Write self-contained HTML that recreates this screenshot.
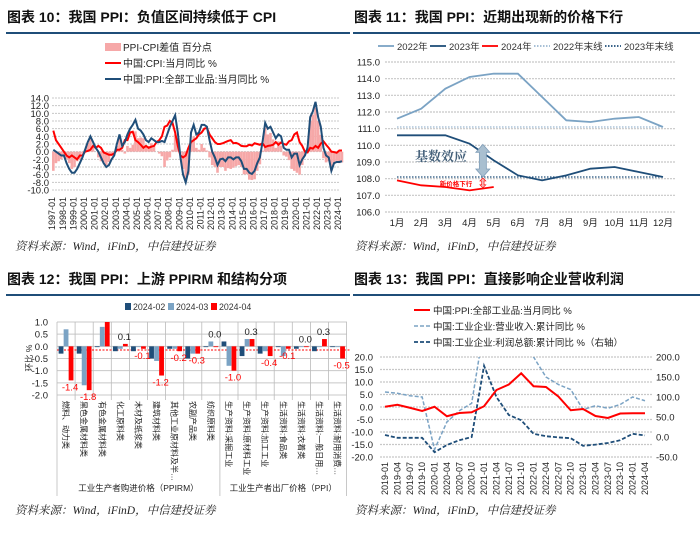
<!DOCTYPE html>
<html><head><meta charset="utf-8">
<style>
html,body{margin:0;padding:0;background:#fff;}
svg{display:block;font-family:"Liberation Sans","Noto Sans CJK SC",sans-serif;}
</style></head>
<body>
<svg id="s" width="700" height="536" viewBox="0 0 700 536" xmlns="http://www.w3.org/2000/svg"></svg>
<script>
// ---------- Chart 10 data (quarterly, 1997Q1..2024Q2) ----------
const c10PPI = [0.5,0,-0.5,-1, -1,-3,-4.5,-5.5, -5.5,-4.5,-3,-1.5, 0.5,2.5,4,2.5, 1,0,-1.5,-3, -4,-3.5,-2,-1, 2,4.5,1.5,2.5, 4.5,6,7,8.3, 6,5.5,4.5,3, 2.5,3.5,3,2.5, 2.5,2.8,2.5,4.5, 6.5,8,9.5,5, -1.5,-6,-8,-5, 5,7,4.5,5, 7,7,6.5,3, 0,-1.5,-3.5,-2, -1.8,-2.5,-1.5,-1.5, -2,-1.5,-1.5,-2.5, -4.5,-4.5,-5.5,-5.8, -5,-3,-1.5,2.5, 7.5,6,6.5,5, 3.5,4.5,4,1, 0.5,0.5,-1.5,-0.5, -0.5,-3.5,-2,-1, 1,9,10.5,13, 9,6.5,1,-1, -1.5,-5,-3,-2.7, -2.7,-2.5];
const c10CPI = [5.5,3,2,1, 0,-1,-1.5,-1, -1.5,-2,-1,-1, 0,0.2,0.5,1.5, 1,1.5,1,-0.2, -0.5,-0.8,-0.8,-0.5, 0.5,0.5,1,3, 3,5,5.2,3, 2.5,1.8,1,1.5, 1,1.3,1.5,2.5, 3,4,6.5,6.8, 8,7.5,5,1.5, -1,-1.5,-1,1, 2.5,3,3.5,4.5, 5,6,6.2,4.5, 3.5,2.5,2,2, 2.2,2.5,2.8,3, 2.2,2.3,2,1.5, 1.4,1.4,1.8,1.6, 2.2,2,1.8,2.2, 1.2,1.5,1.6,1.8, 2.5,1.8,2.4,2, 1.8,2.7,3,4.5, 5,2.5,1.5,0, -0.2,1,0.8,1.5, 1,2.1,2.7,1.8, 1,0,-0.1,-0.3, 0.3,0.3];
const c10YTicks = [14,12,10,8,6,4,2,0,-2,-4,-6,-8,-10];
const c10Years = [];
for (let y = 1997; y <= 2024; y++) c10Years.push(y + "-01");

// ---------- Chart 11 data ----------
const c11Months = ["1月","2月","3月","4月","5月","6月","7月","8月","9月","10月","11月","12月"];
const c11Y2022 = [111.6,112.2,113.4,114.1,114.3,114.3,112.9,111.5,111.4,111.6,111.7,111.1];
const c11Y2023 = [110.6,110.6,110.6,110.1,109.1,108.2,107.9,108.2,108.6,108.7,108.4,108.1];
const c11Y2024 = [107.9,107.6,107.5,107.3,107.5];
const c11End2022 = 111.1;
const c11End2023 = 108.1;
const c11YTicks = [115,114,113,112,111,110,109,108,107,106];

// ---------- Chart 12 data ----------
const c12Cats = ["燃料、动力类","黑色金属材料类","有色金属材料类","化工原料类","木材及纸浆类","建筑材料类","其他工业原材料及半…","农副产品类","纺织原料类","生产资料:采掘工业","生产资料:原材料工业","生产资料:加工工业","生活资料:食品类","生活资料:衣着类","生活资料:一般日用…","生活资料:耐用消费…"];
const c12Feb = [-0.3,-0.3,0,-0.2,-0.2,-0.5,-0.1,-0.5,0,0.2,-0.4,-0.3,0,-0.1,-0.2,0];
const c12Mar = [0.7,-1.6,0.8,-0.1,0,-0.6,-0.1,-0.3,0.2,-0.8,0.3,-0.2,-0.4,0,0,0];
const c12Apr = [-1.4,-1.8,1.3,0.1,-0.1,-1.2,-0.2,-0.3,0.0,-1.0,0.3,-0.4,-0.1,0.0,0.3,-0.5];
const c12Labels = ["-1.4","-1.8","","0.1","-0.1","-1.2","-0.2","-0.3","0.0","-1.0","0.3","-0.4","-0.1","0.0","0.3","-0.5"];
const c12YTicks = [1.0,0.5,0.0,-0.5,-1.0,-1.5,-2.0];

// ---------- Chart 13 data (quarterly points, 2019-01..2024-04) ----------
const c13PPI = [0.1,0.9,-0.3,-1.6,0.1,-3.7,-2.4,-2.1,0.3,6.8,9.0,13.5,8.3,8.0,4.2,-1.3,-0.8,-3.6,-4.4,-2.6,-2.5,-2.5];
const c13Rev = [6,5.5,4.5,4,-17,-6,-1.5,1.5,32,30,26,22,20,12,9,7,-1,0.5,-0.5,1,4,2.5];
const c13Profit = [5,-2,-2,-2,-38,-20,-8,0,178,100,55,42,8,2,-1,-3,-22,-19,-15,-8,8,4];
const c13Ticks = ["2019-01","2019-04","2019-07","2019-10","2020-01","2020-04","2020-07","2020-10","2021-01","2021-04","2021-07","2021-10","2022-01","2022-04","2022-07","2022-10","2023-01","2023-04","2023-07","2023-10","2024-01","2024-04"];
const c13YL = [20,15,10,5,0,-5,-10,-15,-20];
const c13YR = [200,150,100,50,0,-50];

const NS = "http://www.w3.org/2000/svg";
const svg = document.getElementById("s");
function mk(tag, attrs, parent) {
  const e = document.createElementNS(NS, tag);
  for (const k in attrs) e.setAttribute(k, attrs[k]);
  (parent || svg).appendChild(e);
  return e;
}
function txt(x, y, s, attrs, parent) {
  const e = mk("text", Object.assign({x: x, y: y}, attrs || {}), parent);
  e.textContent = s;
  return e;
}
function grp(name) {
  const g = mk("g", {});
  
  
  return g;
}
const DB = "#1f4e79", RED = "#ff0000", LB = "#7ba3c4";

// ---------- Headers ----------
function header(x, y, x2, s, name) {
  const g = grp(name);
  txt(x, y, s, {"font-size": 14, "font-weight": "bold", fill: "#111"}, g);
  mk("rect", {x: x - 1, y: y + 10, width: x2 - x + 1, height: 2, fill: DB}, g);
}
header(7, 22, 350, "图表 10：我国 PPI：负值区间持续低于 CPI", "chart10-title");
header(354, 22, 700, "图表 11：我国 PPI：近期出现新的价格下行", "chart11-title");
header(7, 284, 350, "图表 12：我国 PPI：上游 PPIRM 和结构分项", "chart12-title");
header(354, 284, 700, "图表 13：我国 PPI：直接影响企业营收利润", "chart13-title");
function source(x, y, name) {
  const g = grp(name);
  txt(x, y, "资料来源：Wind，iFinD，中信建投证券", {"font-size": 11.5, "font-style": "italic", fill: "#222", "font-family": "\"Liberation Serif\",\"Noto Serif CJK SC\",serif"}, g);
}
source(15, 250, "chart10-source");
source(355, 250, "chart11-source");
source(15, 514, "chart12-source");
source(355, 514, "chart13-source");

// ---------- Chart 10 ----------
(function () {
  const g = grp("chart10-plot");
  const X0 = 52, X1 = 340;
  const ym = v => 98 + (14 - v) * (92 / 24);
  const xm = m => X0 + m * (286 / 324);
  c10YTicks.forEach(t => {
    mk("line", {x1: X0, x2: X1, y1: ym(t), y2: ym(t), stroke: "#c8c8c8", "stroke-width": 1, "stroke-dasharray": "2,1"}, g);
    const l = txt(49, ym(t) + 3.5, t.toFixed(1), {"font-size": 9.5, "text-anchor": "end", fill: "#222"}, g);
    
  });
  c10PPI.forEach((p, i) => {
    const d = p - c10CPI[i];
    const x = xm(i * 3 + 1.5);
    const b = mk("rect", {x: x - 1.3, y: Math.min(ym(d), ym(0)), width: 2.6, height: Math.abs(ym(d) - ym(0)), fill: "#f6a8a8"}, g);
    
  });
  const line = (arr, col, name) => {
    const p = mk("polyline", {points: arr.map((v, i) => xm(i * 3 + 1.5) + "," + ym(v)).join(" "), fill: "none", stroke: col, "stroke-width": 2}, g);
    
  };
  line(c10CPI, RED, "cpi-line");
  line(c10PPI, DB, "ppi-line");
  c10Years.forEach((s, i) => {
    const x = xm(i * 12);
    const t = txt(0, 0, s, {"font-size": 9, "text-anchor": "end", fill: "#222", transform: "translate(" + (x + 3.2) + ",197) rotate(-90)"}, g);
    
  });
  const lg = grp("chart10-legend");
  mk("rect", {x: 105, y: 43, width: 16, height: 8, fill: "#f6a8a8"}, lg);
  txt(123, 51, "PPI-CPI差值 百分点", {"font-size": 10, fill: "#222"}, lg);
  mk("line", {x1: 105, x2: 121, y1: 63, y2: 63, stroke: RED, "stroke-width": 2}, lg);
  txt(123, 67, "中国:CPI:当月同比 %", {"font-size": 10, fill: "#222"}, lg);
  mk("line", {x1: 105, x2: 121, y1: 79, y2: 79, stroke: DB, "stroke-width": 2}, lg);
  txt(123, 83, "中国:PPI:全部工业品:当月同比 %", {"font-size": 10, fill: "#222"}, lg);
})();

// ---------- Chart 11 ----------
(function () {
  const g = grp("chart11-plot");
  const ym = v => 62 + (115 - v) * (150 / 9);
  const xm = i => 397 + i * (266 / 11);
  c11YTicks.forEach(t => {
    mk("line", {x1: 385, x2: 675, y1: ym(t), y2: ym(t), stroke: "#c8c8c8", "stroke-width": 1.2, "stroke-dasharray": "2,1"}, g);
    const l = txt(380, ym(t) + 3.5, t.toFixed(1), {"font-size": 9.5, "text-anchor": "end", fill: "#222"}, g);
    
  });
  c11Months.forEach((m, i) => {
    const l = txt(xm(i), 226, m, {"font-size": 9.5, "text-anchor": "middle", fill: "#222"}, g);
    
  });
  const end1 = mk("line", {x1: 397, x2: 663, y1: ym(c11End2022), y2: ym(c11End2022), stroke: "#9bb7d0", "stroke-width": 1.2, "stroke-dasharray": "1.5,1.5"}, g);
  
  const end2 = mk("line", {x1: 397, x2: 663, y1: ym(c11End2023), y2: ym(c11End2023), stroke: DB, "stroke-width": 1.2, "stroke-dasharray": "1.5,1.5"}, g);
  
  const line = (arr, col, name) => {
    const p = mk("polyline", {points: arr.map((v, i) => xm(i) + "," + ym(v)).join(" "), fill: "none", stroke: col, "stroke-width": 1.8}, g);
    
  };
  line(c11Y2022, LB, "line-2022");
  line(c11Y2023, DB, "line-2023");
  line(c11Y2024, RED, "line-2024");
  const ax = xm(3.55);
  const y1 = ym(110.0), y2 = ym(c11End2023);
  const arr = mk("polygon", {points: [ax, y1 - 1, ax + 7, y1 + 7, ax + 3.5, y1 + 7, ax + 3.5, y2 - 8, ax + 7, y2 - 8, ax, y2, ax - 7, y2 - 8, ax - 3.5, y2 - 8, ax - 3.5, y1 + 7, ax - 7, y1 + 7].join(" "), fill: "#a9bfd0", stroke: "#7f9db8", "stroke-width": 0.8}, g);
  
  const t1 = txt(467, 161, "基数效应", {"font-size": 13, "text-anchor": "end", fill: "#44607a", "font-weight": "bold", "font-family": "\"Liberation Serif\",\"Noto Serif CJK SC\",serif"}, g);
  
  const a2 = mk("polygon", {points: [ax, y2 + 1, ax + 3, y2 + 4, ax + 1.2, y2 + 4, ax + 1.2, ym(107.45) - 3, ax + 3, ym(107.45) - 3, ax, ym(107.45), ax - 3, ym(107.45) - 3, ax - 1.2, ym(107.45) - 3, ax - 1.2, y2 + 4, ax - 3, y2 + 4].join(" "), fill: "#f7b3b3", stroke: RED, "stroke-width": 0.6}, g);
  
  const t2 = txt(456, 186, "新价格下行", {"font-size": 6.5, "text-anchor": "middle", fill: RED, "font-weight": "bold"}, g);
  
  const lg = grp("chart11-legend");
  const items = [[378, "2022年", LB, ""], [430, "2023年", DB, ""], [482, "2024年", RED, ""], [534, "2022年末线", "#9bb7d0", "1.5,1.5"], [605, "2023年末线", DB, "1.5,1.5"]];
  items.forEach(it => {
    mk("line", {x1: it[0], x2: it[0] + 16, y1: 46, y2: 46, stroke: it[2], "stroke-width": 1.8, "stroke-dasharray": it[3] || "none"}, lg);
    txt(it[0] + 19, 50, it[1], {"font-size": 9.5, fill: "#333"}, lg);
  });
})();

// ---------- Chart 12 ----------
(function () {
  const g = grp("chart12-plot");
  const ym = v => 322 + (1 - v) * (73 / 3);
  const X0 = 57, W = 18.1;
  const xc = i => X0 + W * (i + 0.5);
  c12YTicks.forEach(t => {
    mk("line", {x1: X0, x2: 347, y1: ym(t), y2: ym(t), stroke: "#c8c8c8", "stroke-width": 1}, g);
    const l = txt(48, ym(t) + 3.5, t.toFixed(1), {"font-size": 9.5, "text-anchor": "end", fill: "#222"}, g);
    
  });
  for (let i = 0; i <= c12Cats.length; i++) {
    const h = (i === 9 || i === 0 || i === c12Cats.length) ? 496 : 400;
    mk("line", {x1: X0 + W * i, x2: X0 + W * i, y1: 322, y2: h, stroke: "#bbb", "stroke-width": 0.8}, g);
  }
  const ref = mk("line", {x1: X0, x2: 350, y1: ym(-0.15), y2: ym(-0.15), stroke: RED, "stroke-width": 1, "stroke-dasharray": "2,1.5"}, g);
  
  const bar = (arr, off, col, name) => arr.forEach((v, i) => {
    const vv = Math.max(Math.min(v, 1.0), -2.0);
    const b = mk("rect", {x: xc(i) + off - 2.4, y: Math.min(ym(vv), ym(0)), width: 4.8, height: Math.max(Math.abs(ym(vv) - ym(0)), 0.8), fill: col}, g);
    
  });
  bar(c12Feb, -5, DB, "bar-2024-02");
  bar(c12Mar, 0, "#7ba3c4", "bar-2024-03");
  bar(c12Apr, 5, RED, "bar-2024-04");
  c12Labels.forEach((s, i) => {
    if (!s) return;
    const v = c12Apr[i];
    const neg = v < 0;
    const col = neg ? RED : "#222";
    const y = neg ? ym(Math.max(v, -2)) + 10 : ym(Math.max(v, c12Mar[i], 0)) - 4;
    const l = txt(xc(i) + 4, y, s, {"font-size": 9.5, "text-anchor": "middle", fill: col}, g);
    
  });
  c12Cats.forEach((c, i) => {
    const l = txt(0, 0, c, {"font-size": 8, fill: "#222", transform: "translate(" + (xc(i) - 3) + ",401) rotate(90)"}, g);
    
  });
  const yl = txt(0, 0, "环比 %", {"font-size": 8.5, fill: "#222", "text-anchor": "middle", transform: "translate(32,358) rotate(-90)"}, g);
  
  const gl1 = txt(X0 + W * 4.5, 491, "工业生产者购进价格（PPIRM）", {"font-size": 8.5, "text-anchor": "middle", fill: "#222"}, g);
  
  const gl2 = txt(X0 + W * 12.5, 491, "工业生产者出厂价格（PPI）", {"font-size": 8.5, "text-anchor": "middle", fill: "#222"}, g);
  
  const lg = grp("chart12-legend");
  [[125, "2024-02", DB], [168, "2024-03", "#7ba3c4"], [211, "2024-04", RED]].forEach(it => {
    mk("rect", {x: it[0], y: 303, width: 6, height: 7, fill: it[2]}, lg);
    txt(it[0] + 8, 310, it[1], {"font-size": 8.8, fill: "#333"}, lg);
  });
})();

// ---------- Chart 13 ----------
(function () {
  const g = grp("chart13-plot");
  const yl = v => 357 + (20 - v) * 2.5;
  const yr = v => 357 + (200 - v) * 0.4;
  const xm = i => 385 + i * 3 * (260 / 63);
  const cp = mk("clipPath", {id: "c13clip"}, svg);
  mk("rect", {x: 380, y: 357, width: 280, height: 100}, cp);
  c13YL.forEach(t => {
    mk("line", {x1: 380, x2: 652, y1: yl(t), y2: yl(t), stroke: "#c8c8c8", "stroke-width": 1.2, "stroke-dasharray": "2,1"}, g);
    const l = txt(373, yl(t) + 3.5, t.toFixed(1), {"font-size": 9.5, "text-anchor": "end", fill: "#222"}, g);
    
  });
  c13YR.forEach(t => {
    const l = txt(656, yr(t) + 3.5, t.toFixed(1), {"font-size": 9.5, fill: "#222"}, g);
    
  });
  c13Ticks.forEach((s, i) => {
    const t = txt(0, 0, s, {"font-size": 9, "text-anchor": "end", fill: "#222", transform: "translate(" + (xm(i) + 3) + ",462) rotate(-90)"}, g);
    
  });
  const cg = mk("g", {"clip-path": "url(#c13clip)"}, g);
  const rev = mk("polyline", {points: c13Rev.map((v, i) => xm(i) + "," + yl(v)).join(" "), fill: "none", stroke: "#7ba3c4", "stroke-width": 1.5, "stroke-dasharray": "4,2"}, cg);
  
  const pr = mk("polyline", {points: c13Profit.map((v, i) => xm(i) + "," + yr(v)).join(" "), fill: "none", stroke: DB, "stroke-width": 1.8, "stroke-dasharray": "4,2"}, cg);
  
  const pp = mk("polyline", {points: c13PPI.map((v, i) => xm(i) + "," + yl(v)).join(" "), fill: "none", stroke: RED, "stroke-width": 2}, cg);
  
  const lg = grp("chart13-legend");
  mk("line", {x1: 414, x2: 430, y1: 310, y2: 310, stroke: RED, "stroke-width": 2}, lg);
  txt(433, 314, "中国:PPI:全部工业品:当月同比 %", {"font-size": 9.5, fill: "#222"}, lg);
  mk("line", {x1: 414, x2: 430, y1: 326, y2: 326, stroke: "#7ba3c4", "stroke-width": 1.5, "stroke-dasharray": "4,2"}, lg);
  txt(433, 330, "中国:工业企业:营业收入:累计同比 %", {"font-size": 9.5, fill: "#222"}, lg);
  mk("line", {x1: 414, x2: 430, y1: 342, y2: 342, stroke: DB, "stroke-width": 1.8, "stroke-dasharray": "4,2"}, lg);
  txt(433, 346, "中国:工业企业:利润总额:累计同比 %（右轴）", {"font-size": 9.5, fill: "#222"}, lg);
})();
</script>
</body></html>
